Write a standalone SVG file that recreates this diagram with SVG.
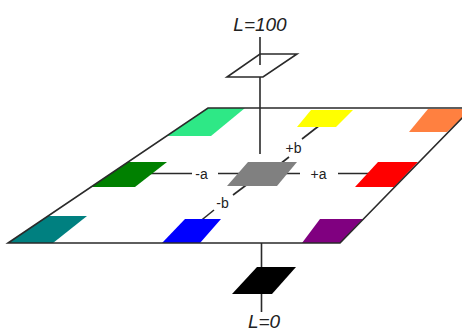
<svg xmlns="http://www.w3.org/2000/svg" width="462" height="331" viewBox="0 0 462 331">
<style>
.ln{stroke:#2a2a2a;stroke-width:1.6;fill:none;stroke-linecap:butt}
.big{font-family:"Liberation Sans",Arial,sans-serif;font-style:italic;font-size:19px;fill:#222}
.ax{font-family:"Liberation Sans",Arial,sans-serif;font-size:14px;fill:#222}
</style>
<rect width="462" height="331" fill="#fff"/>
<g id="plane">
  <polygon points="8,243 208,108 472,108 340,243" fill="#fff" stroke="none"/>
</g>
<g id="connectors">
  <line class="ln" x1="260" y1="37" x2="260" y2="65"/>
  <line class="ln" x1="260" y1="77" x2="260" y2="154"/>
  <line class="ln" x1="261.5" y1="243" x2="261.5" y2="268"/>
  <line class="ln" x1="261.5" y1="294" x2="261.5" y2="312"/>
  <line class="ln" x1="150" y1="173.5" x2="192" y2="173.5"/>
  <line class="ln" x1="218" y1="173.5" x2="300" y2="173.5"/>
  <line class="ln" x1="338" y1="173.5" x2="372" y2="173.5"/>
  <line class="ln" x1="320" y1="125" x2="302" y2="139"/>
  <line class="ln" x1="289" y1="157" x2="275" y2="168"/>
  <line class="ln" x1="249" y1="183" x2="233" y2="195"/>
  <line class="ln" x1="214" y1="210" x2="198" y2="223"/>
</g>
<g id="patch-lightgreen"><polygon points="208,108 245,108 211,136 167,136" fill="#2ee886"/></g>
<g id="patch-yellow"><polygon points="311,110 353,110 336,127 297,127" fill="#ffff00"/></g>
<g id="patch-orange"><polygon points="428,109 472,109 447,132 409,132" fill="#ff8040"/></g>
<g id="patch-darkgreen"><polygon points="128,162 167,162 135,187 91,187" fill="#008000"/></g>
<g id="patch-red"><polygon points="378,162 418,162 394,187 355,187" fill="#ff0000"/></g>
<g id="patch-teal"><polygon points="48,216 87,216 53,243 8,243" fill="#008080"/></g>
<g id="patch-blue"><polygon points="185,219 221,219 200,243 162,243" fill="#0000ff"/></g>
<g id="patch-purple"><polygon points="320,219 363,219 340,243 302,243" fill="#800080"/></g>
<g id="plane-outline">
  <polyline class="ln" points="472,108 208,108 8,243 340,243 472,108"/>
</g>
<g id="patch-gray"><polygon points="248,162 297,162 277,186 227,186" fill="#808080"/></g>
<g id="top-square"><polygon class="ln" points="260,54 297,54 263,77 227,77"/></g>
<g id="patch-black"><polygon points="257,267 296,267 272,294 232,294" fill="#000"/></g>
<g id="labels">
  <text class="big" x="260" y="31" text-anchor="middle">L=100</text>
  <text class="big" x="264" y="328" text-anchor="middle">L=0</text>
  <text class="ax" x="201.5" y="178.5" text-anchor="middle">-a</text>
  <text class="ax" x="318.5" y="178.5" text-anchor="middle">+a</text>
  <text class="ax" x="293.5" y="153" text-anchor="middle">+b</text>
  <text class="ax" x="222.5" y="208" text-anchor="middle">-b</text>
</g>
</svg>
